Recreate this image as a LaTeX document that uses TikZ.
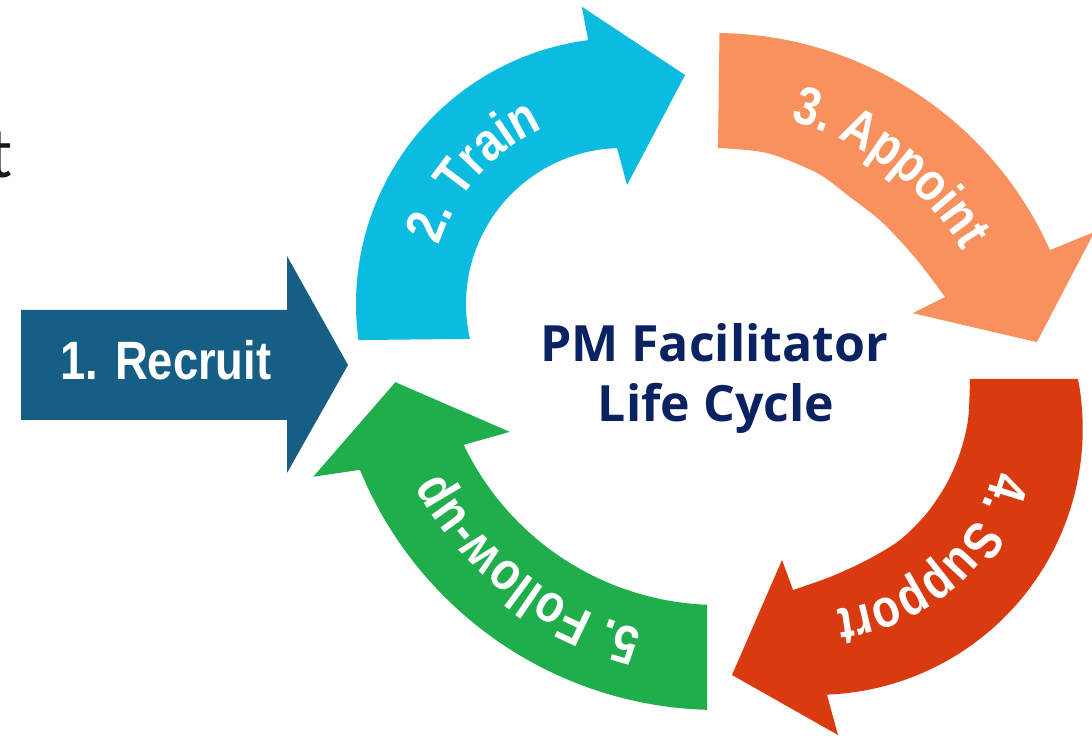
\documentclass[tikz,border=0pt]{standalone}
\usepackage{fontspec}
\setsansfont{Liberation Sans}
\newfontfamily\titlefont{Open Sans}
\newfontfamily\cutfont{Carlito}
\newfontfamily\arrowfont[FakeStretch=0.84]{Liberation Sans}
\usetikzlibrary{calc,decorations.text}
\definecolor{recruitc}{HTML}{165E83}
\definecolor{trainc}{HTML}{0BBBE0}
\definecolor{appointc}{HTML}{F8915E}
\definecolor{supportc}{HTML}{D93A10}
\definecolor{followc}{HTML}{20AD4B}
\definecolor{titlec}{HTML}{0B2262}
\newcommand\lbl{\fontsize{54}{60}\selectfont\arrowfont\bfseries}
\begin{document}
\begin{tikzpicture}[x=1pt,y=1pt,
  titletext/.style={inner sep=0pt,anchor=base,text=titlec,font=\fontsize{50}{60}\selectfont\titlefont\bfseries},
  arclabel/.style={decorate,decoration={text along path,text align=center,text color=white}}]
\useasboundingbox (0,0) rectangle (1092,739);
\clip (0,0) rectangle (1092,739);
\fill[white] (0,0) rectangle (1092,739);
% centres of the curved arrows
\coordinate (C2) at (622,435);
\coordinate (C3) at (715,339);
\coordinate (C4) at (817,310);
\coordinate (C5) at (718,416);
% cut-off letter at left edge
\node[inner sep=0pt,anchor=base east,text=black!90] (cut) at (13,561) {\fontsize{72}{80}\selectfont\cutfont t};
% 1. Recruit
\fill[recruitc] (21,429) -- (287,429) -- (287,483) -- (348,374) -- (287,266) -- (287,319) -- (21,319) -- cycle;
\node[inner sep=0pt,anchor=base,text=white] (recruit) at (166,359) {\lbl 1. Recruit};
% 2. Train
\fill[trainc] ($(C2)+(187.8:266)$) arc[start angle=187.8,end angle=97.3,radius=266]
  -- ($(C2)+(97.7:300)$) -- ($(C2)+(74.6:237.5)$) -- ($(C2)+(87.6:119)$) -- ($(C2)+(91.8:156)$)
  arc[start angle=91.8,end angle=192.9,radius=156] -- cycle;
\path[arclabel,decoration={text={|\lbl|2. Train}}] ($(C2)+(178.2:192)$) arc[start angle=178.2,end angle=98.2,radius=192];
% 3. Appoint
\fill[appointc] ($(C3)+(89.3:367)$) arc[start angle=89.3,end angle=24.1,radius=367]
  -- ($(C3)+(23.9:415)$) -- ($(C3)+(10.2:327)$) -- ($(C3)+(23.7:216)$)
  -- plot[smooth] coordinates {(945,442) (917,479) (883,516) (850,542) (817,566) (767,586) (718,591)}
  -- cycle;
\path[arclabel,decoration={text={|\lbl|3. Appoint}}] ($(C3)+(93:289)$) arc[start angle=93,end angle=13,radius=289];
% 4. Support
\fill[supportc] (1078,360) arc[start angle=10.8,end angle=-87.8,radius=266]
  -- (838,4) -- (732,64) -- (782,179)
  -- plot[smooth] coordinates {(793,149) (830,162) (867,179) (900,199) (927,226) (947,256) (960,286) (968,319) (970,360)}
  -- cycle;
\path[arclabel,decoration={text={|\lbl|4. Support}}] ($(C4)+(1.4:182)$) arc[start angle=1.4,end angle=-98.6,radius=182];
% 5. Follow-up
\fill[followc] ($(C5)+(268.4:387)$) arc[start angle=268.4,end angle=202.3,radius=387]
  -- ($(C5)+(200.8:433)$) -- ($(C5)+(190.4:328)$) -- ($(C5)+(207.6:235)$) -- ($(C5)+(205.6:282)$)
  arc[start angle=205.6,end angle=267.8,radius=282] -- cycle;
\path[arclabel,decoration={text={|\lbl|5. Follow-up}}] ($(C5)+(282.2:316)$) arc[start angle=282.2,end angle=182.2,radius=316];
% title
\node[titletext] (title1) at (714,377) {PM Facilitator};
\node[titletext] (title2) at (716,317) {Life Cycle};
\end{tikzpicture}
\end{document}
